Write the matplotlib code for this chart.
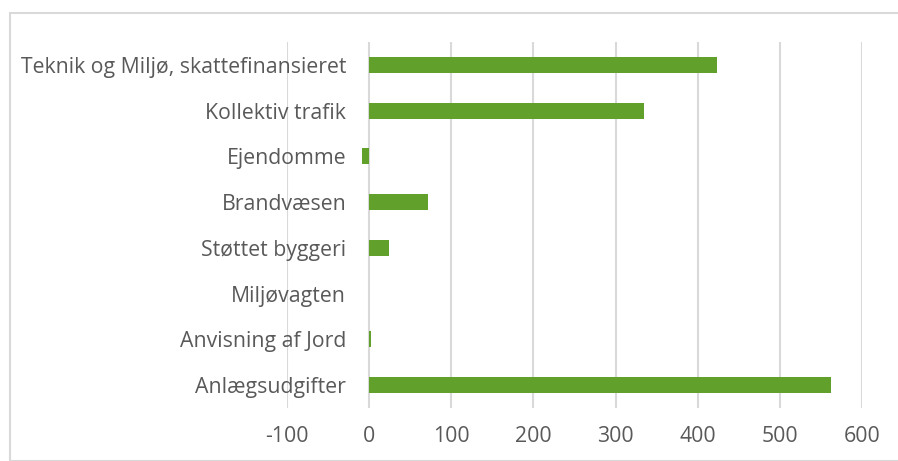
import matplotlib.pyplot as plt
from matplotlib.patches import Rectangle

# kategorier, oeverst foerst
categories = ['Teknik og Miljø, skattefinansieret', 'Kollektiv trafik', 'Ejendomme',
              'Brandvæsen', 'Støttet byggeri', 'Miljøvagten', 'Anvisning af Jord',
              'Anlægsudgifter']
values = [424, 335, -9, 72, 24, 0, 2, 562]
x_ticks = [-100, 0, 100, 200, 300, 400, 500, 600]

plt.rcParams['font.family'] = ['Open Sans', 'DejaVu Sans']

fig = plt.figure(figsize=(8.98, 4.61), dpi=100)
ax = fig.add_axes([0.3196, 0.115, 0.6403, 0.794])

pos = list(range(len(categories)))[::-1]
ax.barh(pos, values, height=0.35, color='#62a02c', zorder=3)

ax.set_xlim(-100, 600)
ax.set_ylim(-0.5, len(categories) - 0.5)
ax.set_xticks(x_ticks)
ax.set_xticklabels([str(t) for t in x_ticks])
ax.set_yticks(pos)
ax.set_yticklabels(categories)

ax.grid(axis='x', color='#d9d9d9', linewidth=1.5, zorder=0)
for s in ['top', 'right', 'bottom']:
    ax.spines[s].set_visible(False)
ax.spines['left'].set_position(('data', 0))
ax.spines['left'].set_visible(False)

ax.tick_params(axis='y', length=0, pad=16.5, labelsize=15.3, labelcolor='#595959')
ax.tick_params(axis='x', length=0, pad=13, labelsize=15.3, labelcolor='#595959')

# ramme rundt om diagrammet
fig.patches.append(Rectangle((10 / 898, 0), 1, 1 - 13 / 461, transform=fig.transFigure,
                             fill=False, edgecolor='#d9d9d9', linewidth=1.5))

plt.savefig('out.png', dpi=100)
plt.close()
